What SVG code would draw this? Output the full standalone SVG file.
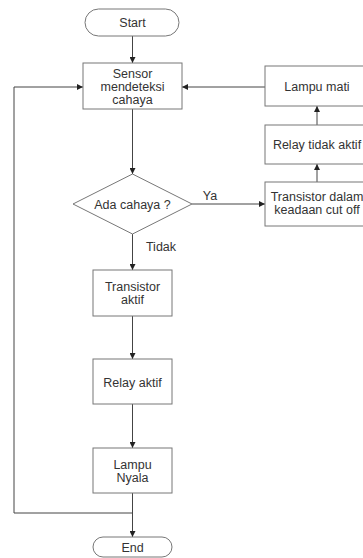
<svg xmlns="http://www.w3.org/2000/svg" width="363" height="558" viewBox="0 0 363 558">
<defs>
<marker id="ah" markerWidth="6" markerHeight="6" refX="6" refY="3" orient="auto" markerUnits="userSpaceOnUse">
<path d="M0,0 L6,3 L0,6 Z" fill="#222"/>
</marker>
<style>
.box{fill:#fff;stroke:#777;stroke-width:1}
.t{font-family:"Liberation Sans",Arial,sans-serif;font-size:12.5px;fill:#333;text-anchor:middle}
.c{fill:none;stroke:#444;stroke-width:1}
</style>
</defs>
<rect width="363" height="558" fill="#fff"/>
<g id="connectors">
<line class="c" x1="132.5" y1="36" x2="132.5" y2="63" marker-end="url(#ah)"/>
<line class="c" x1="132.5" y1="109" x2="132.5" y2="174" marker-end="url(#ah)"/>
<line class="c" x1="192" y1="204" x2="265" y2="204" marker-end="url(#ah)"/>
<line class="c" x1="317" y1="182" x2="317" y2="164" marker-end="url(#ah)"/>
<line class="c" x1="317" y1="125" x2="317" y2="106" marker-end="url(#ah)"/>
<line class="c" x1="265" y1="87" x2="182" y2="87" marker-end="url(#ah)"/>
<line class="c" x1="132.5" y1="234" x2="132.5" y2="270" marker-end="url(#ah)"/>
<line class="c" x1="132.5" y1="316" x2="132.5" y2="359" marker-end="url(#ah)"/>
<line class="c" x1="132.5" y1="404" x2="132.5" y2="448" marker-end="url(#ah)"/>
<line class="c" x1="132.5" y1="493" x2="132.5" y2="537" marker-end="url(#ah)"/>
<polyline class="c" points="132.5,513 14,513 14,87 83,87" marker-end="url(#ah)"/>
<text class="t" x="210" y="200">Ya</text>
<text class="t" x="161" y="251">Tidak</text>
</g>
<g id="start">
<rect class="box" x="85" y="9" width="94" height="27" rx="13.5"/>
<text class="t" x="132.5" y="27">Start</text>
</g>
<g id="sensor">
<rect class="box" x="83" y="63" width="99" height="46"/>
<text class="t" x="132.5" y="77.5">Sensor</text>
<text class="t" x="132.5" y="90.5">mendeteksi</text>
<text class="t" x="132.5" y="103.5">cahaya</text>
</g>
<g id="decision">
<polygon class="box" points="132.5,174 192,204 132.5,234 73,204"/>
<text class="t" x="132.5" y="208.5">Ada cahaya ?</text>
</g>
<g id="transistor-cutoff">
<rect class="box" x="265" y="182" width="104" height="44"/>
<text class="t" x="317" y="201">Transistor dalam</text>
<text class="t" x="317" y="214">keadaan cut off</text>
</g>
<g id="relay-tidak-aktif">
<rect class="box" x="265" y="125" width="104" height="39"/>
<text class="t" x="317" y="148.5">Relay tidak aktif</text>
</g>
<g id="lampu-mati">
<rect class="box" x="265" y="66" width="104" height="40"/>
<text class="t" x="317" y="91">Lampu mati</text>
</g>
<g id="transistor-aktif">
<rect class="box" x="93" y="270" width="79" height="46"/>
<text class="t" x="132.5" y="290.5">Transistor</text>
<text class="t" x="132.5" y="304">aktif</text>
</g>
<g id="relay-aktif">
<rect class="box" x="93" y="359" width="79" height="45"/>
<text class="t" x="132.5" y="386.5">Relay aktif</text>
</g>
<g id="lampu-nyala">
<rect class="box" x="93" y="448" width="79" height="45"/>
<text class="t" x="132.5" y="468.5">Lampu</text>
<text class="t" x="132.5" y="481.5">Nyala</text>
</g>
<g id="end">
<rect class="box" x="93" y="537" width="79" height="20" rx="10"/>
<text class="t" x="132.5" y="551.5">End</text>
</g>
</svg>
